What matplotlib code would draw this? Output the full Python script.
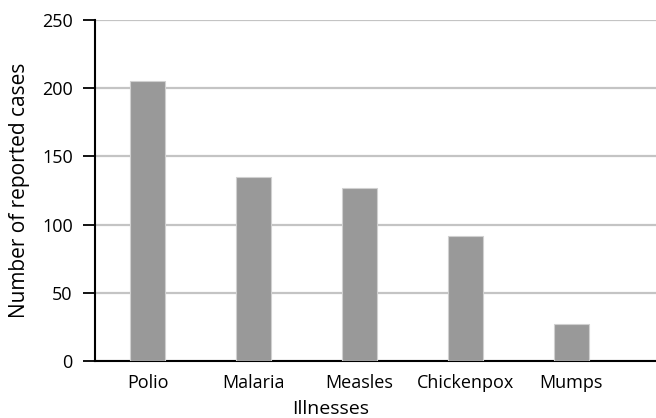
import matplotlib

matplotlib.use("Agg")
import matplotlib.pyplot as plt
import numpy as np

plt.rcParams["font.family"] = ["Open Sans", "DejaVu Sans"]

illnesses = ["Polio", "Malaria", "Measles", "Chickenpox", "Mumps"]
cases = [205, 135, 127, 92, 27]
y_ticks = [0, 50, 100, 150, 200, 250]

fig = plt.figure(figsize=(6.56, 4.18), dpi=100)
ax = fig.add_axes([95 / 656, 57 / 418, 561 / 656, 341 / 418])

x = np.arange(len(illnesses))
ax.bar(x, cases, width=0.33, color="#999999", edgecolor="#d0d0d0", linewidth=0.8, zorder=3)

ax.set_ylim(0, 250)
ax.set_xlim(-0.5, 4.8)
ax.set_yticks(y_ticks)
ax.yaxis.grid(True, color="#c4c4c4", linewidth=1.6, zorder=0)
ax.set_xticks(x)
ax.set_xticklabels(illnesses)
ax.tick_params(axis="x", length=0, pad=9, labelsize=13)
ax.tick_params(axis="y", length=9, width=1.3, pad=7, labelsize=13, direction="out")
for s in ("top", "right"):
    ax.spines[s].set_visible(False)
ax.spines["left"].set_linewidth(1.5)
ax.spines["bottom"].set_linewidth(1.5)

ax.set_ylabel("Number of reported cases", fontsize=15, labelpad=9)
ax.set_xlabel("Illnesses", fontsize=14, labelpad=5)
ax.xaxis.set_label_coords(0.42, -0.115)

fig.savefig("out.png", dpi=100)
